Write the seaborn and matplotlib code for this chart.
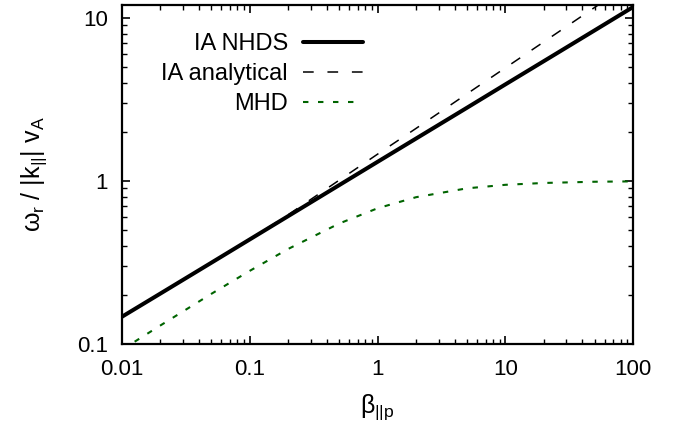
"""Phase speed of the ion-acoustic mode vs parallel proton beta (log-log)."""

import matplotlib

matplotlib.use("Agg")

import matplotlib.pyplot as plt
import pandas as pd
import seaborn as sns
from matplotlib.ticker import FuncFormatter, LogLocator

# Values
BETA = [0.01, 0.02, 0.05, 0.1, 0.2, 0.5, 1, 2, 5, 10, 20, 50, 100]
IA_NHDS = [0.147, 0.204, 0.315, 0.438, 0.609, 0.942, 1.31, 1.82, 2.81,
           3.91, 5.43, 8.39, 11.67]
IA_ANALYTICAL = [0.147, 0.204, 0.315, 0.438, 0.621, 1.01, 1.46, 2.10, 3.42,
                 4.94, 7.13, 11.6, 16.7]
MHD = [0.0923, 0.130, 0.203, 0.281, 0.383, 0.548, 0.680, 0.795, 0.901,
       0.947, 0.972, 0.989, 0.994]

SERIES = ["IA NHDS", "IA analytical", "MHD"]
X_TICKS = [0.01, 0.1, 1, 10, 100]
Y_TICKS = [0.1, 1, 10]

GREEN = "#006400"


def main() -> None:
    sns.set_theme(style="ticks", rc={
        "text.color": "black",
        "axes.labelcolor": "black",
        "xtick.color": "black",
        "ytick.color": "black",
    })
    plt.rcParams["font.family"] = ["Liberation Sans", "DejaVu Sans"]
    plt.rcParams["mathtext.fontset"] = "custom"
    plt.rcParams["mathtext.rm"] = "Liberation Sans"
    plt.rcParams["mathtext.it"] = "Liberation Sans"
    plt.rcParams["mathtext.bf"] = "Liberation Sans:bold"

    df = pd.DataFrame({
        "beta": BETA * 3,
        "omega": IA_NHDS + IA_ANALYTICAL + MHD,
        "series": [s for s in SERIES for _ in BETA],
    })

    fig = plt.figure(figsize=(6.89, 4.33), dpi=100)
    ax = fig.add_axes([0.177, 0.2055, 0.742, 0.783])

    styles = {
        "IA NHDS": dict(color="black", linewidth=2.9, linestyle="-"),
        "IA analytical": dict(color="black", linewidth=1.1,
                              linestyle=(0, (7, 9))),
        "MHD": dict(color=GREEN, linewidth=1.5, linestyle=(0, (2.6, 4.6))),
    }
    for name in SERIES:
        sns.lineplot(
            data=df[df["series"] == name],
            x="beta",
            y="omega",
            label=name,
            ax=ax,
            sort=False,
            **styles[name],
        )

    ax.set_xscale("log")
    ax.set_yscale("log")
    ax.set_xlim(0.01, 100)
    ax.set_ylim(0.1, 12.0)
    ax.set_xticks(X_TICKS)
    ax.set_yticks(Y_TICKS)
    ax.xaxis.set_minor_locator(LogLocator(base=10, subs=range(2, 10)))
    ax.yaxis.set_minor_locator(LogLocator(base=10, subs=range(2, 10)))
    fmt = FuncFormatter(lambda v, _: f"{v:g}")
    ax.xaxis.set_major_formatter(fmt)
    ax.yaxis.set_major_formatter(fmt)

    ax.tick_params(which="both", direction="in", top=True, right=True,
                   colors="black", labelsize=16)
    ax.tick_params(which="major", length=6, width=1.2)
    ax.tick_params(which="minor", length=3.5, width=1.0)
    ax.tick_params(axis="x", which="major", pad=11)
    ax.tick_params(axis="y", which="major", pad=10)
    for spine in ax.spines.values():
        spine.set_linewidth(1.6)
        spine.set_color("black")

    ax.set_xlabel(r"$\beta_{||\mathrm{p}}$", fontsize=18, labelpad=9)
    ax.set_ylabel(r"$\omega_\mathrm{r}$ / |k$_{||}$| v$_\mathrm{A}$",
                  fontsize=18, labelpad=20)

    ax.legend(
        loc="upper right",
        bbox_to_anchor=(0.472, 0.916),
        frameon=False,
        markerfirst=False,
        fontsize=17,
        handlelength=2.55,
        handletextpad=0.64,
        labelspacing=0.33,
        borderpad=0,
        borderaxespad=0,
    )

    fig.savefig("out.png", dpi=100)
    plt.close(fig)


if __name__ == "__main__":
    main()
